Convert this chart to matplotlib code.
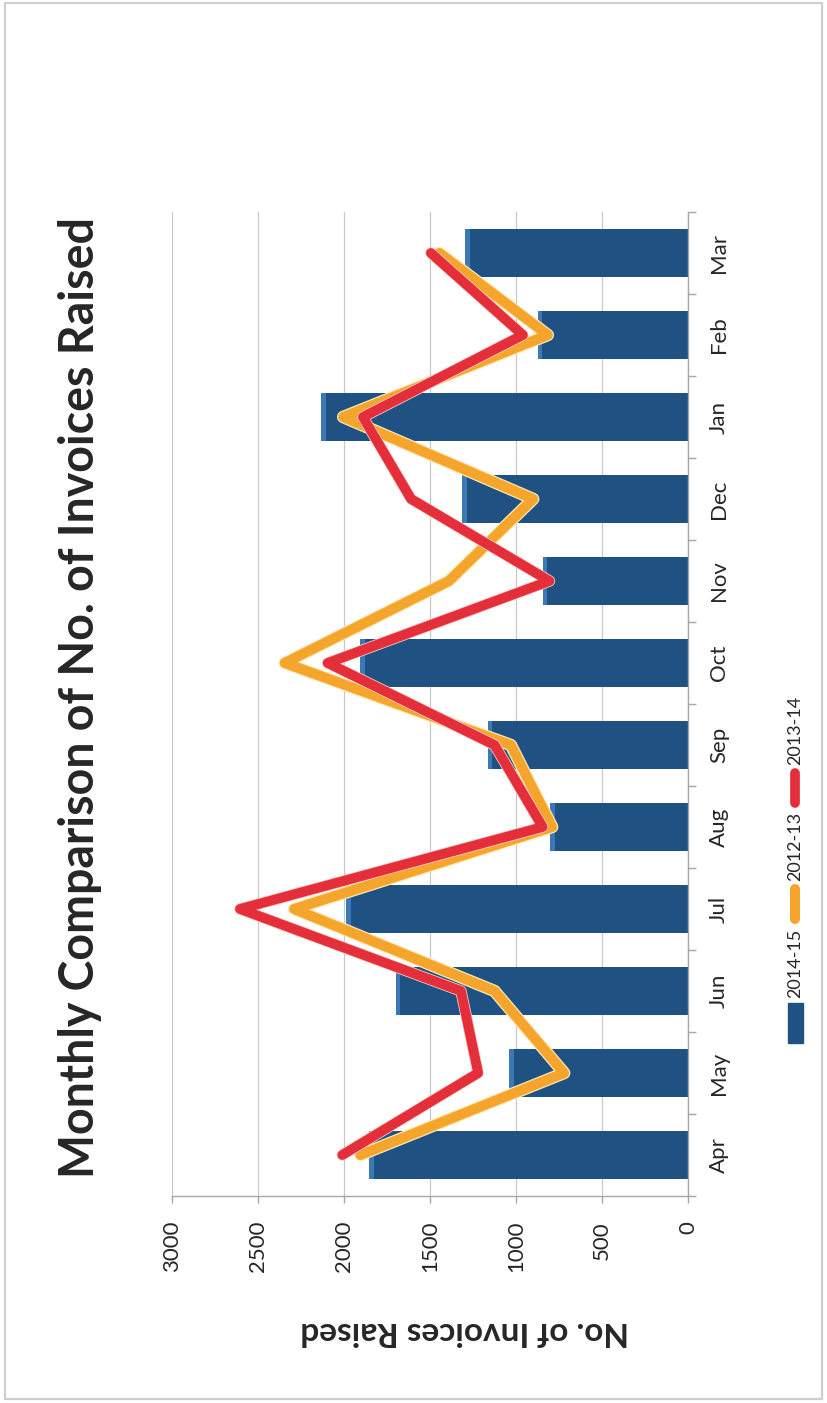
import matplotlib
matplotlib.use("Agg")
import matplotlib.pyplot as plt
import matplotlib.patheffects as pe
from matplotlib.patches import Rectangle
from matplotlib.lines import Line2D
import numpy as np

# Monthly invoice counts per financial year
months = ["Apr", "May", "Jun", "Jul", "Aug", "Sep", "Oct", "Nov", "Dec", "Jan", "Feb", "Mar"]
fy_2014_15 = [1855, 1040, 1700, 1990, 800, 1165, 1905, 845, 1315, 2135, 875, 1295]
fy_2012_13 = [1905, 720, 1125, 2290, 790, 1030, 2345, 1390, 900, 2005, 815, 1445]
fy_2013_14 = [2010, 1220, 1320, 2605, 845, 1125, 2095, 805, 1610, 1890, 960, 1495]
value_ticks = [0, 500, 1000, 1500, 2000, 2500, 3000]
series_names = ["2014-15", "2012-13", "2013-14"]

BLUE = "#1F5283"
BLUE_CAP = "#3B78B4"
ORANGE = "#F5A52B"
RED = "#E42F3B"
TEXT = "#262626"
GRID = "#C9C9C9"
AXIS = "#A6A6A6"

plt.rcParams["font.family"] = ["Lato", "DejaVu Sans"]

W, H = 827, 1403
fig = plt.figure(figsize=(W / 100, H / 100), dpi=100)


def fx(px):
    return px / W


def fy(py):
    return 1 - py / H


# The chart is laid out on its side: months run upward, counts run leftward
ax = fig.add_axes([fx(172), fy(1196), (688 - 172) / W, (1196 - 212) / H])
pos = np.arange(len(months))

ax.barh(pos, fy_2014_15, height=0.58, color=BLUE, zorder=2)
cap = 28
ax.barh(pos, [cap] * len(pos), left=np.array(fy_2014_15) - cap, height=0.58,
        color=BLUE_CAP, zorder=2.1)

glow_o = [pe.Stroke(linewidth=9.0, foreground="#FCE9B8"), pe.Normal()]
glow_r = [pe.Stroke(linewidth=8.2, foreground="#F3C9C4"), pe.Normal()]
ax.plot(fy_2012_13, pos, color=ORANGE, lw=7.2, solid_capstyle="round",
        solid_joinstyle="round", zorder=3, path_effects=glow_o)
ax.plot(fy_2013_14, pos, color=RED, lw=7.0, solid_capstyle="round",
        solid_joinstyle="round", zorder=4, path_effects=glow_r)

ax.set_xlim(3000, 0)
ax.set_ylim(-0.5, len(months) - 0.5)

for s in ["top", "left"]:
    ax.spines[s].set_visible(False)
for s in ["right", "bottom"]:
    ax.spines[s].set_color(AXIS)
    ax.spines[s].set_linewidth(1.0)

ax.set_xticks(value_ticks)
ax.set_xticklabels([str(v) for v in value_ticks], rotation=90, va="top", ha="center")
ax.tick_params(axis="x", direction="out", length=5, color=AXIS, width=1.0,
               pad=13, labelsize=16, labelcolor=TEXT)
ax.xaxis.grid(True, color=GRID, lw=0.9)
ax.set_axisbelow(True)

ax.yaxis.tick_right()
ax.set_yticks(pos)
ax.set_yticklabels(months, rotation=90, va="center", ha="left")
ax.set_yticks(np.arange(-0.5, len(months), 1.0), minor=True)
ax.tick_params(axis="y", which="major", length=0, pad=15, labelsize=16, labelcolor=TEXT)
ax.tick_params(axis="y", which="minor", length=6, direction="out", color=AXIS, width=1.0)

# Title and value-axis label
fig.text(fx(80), fy(697), "Monthly Comparison of No. of Invoices Raised",
         rotation=90, ha="center", va="center", fontsize=33.5, fontweight="bold",
         color=TEXT)
fig.text(fx(465), fy(1331), "No. of Invoices Raised", rotation=180,
         ha="center", va="center", fontsize=24, fontweight="bold", color=TEXT)

# Legend, drawn along the right edge
lx = fx(795)
fig.patches.append(Rectangle((fx(788), fy(1043)), 15 / W, 40 / H,
                             transform=fig.transFigure, color=BLUE))
fig.text(lx, fy(963), series_names[0], rotation=90, ha="center", va="center",
         fontsize=13, color=TEXT)
fig.lines.append(Line2D([lx, lx], [fy(919), fy(889)], transform=fig.transFigure,
                        color=ORANGE, lw=7.2, solid_capstyle="round"))
fig.text(lx, fy(846), series_names[1], rotation=90, ha="center", va="center",
         fontsize=13, color=TEXT)
fig.lines.append(Line2D([lx, lx], [fy(803), fy(773)], transform=fig.transFigure,
                        color=RED, lw=7.0, solid_capstyle="round"))
fig.text(lx, fy(730), series_names[2], rotation=90, ha="center", va="center",
         fontsize=13, color=TEXT)

# Frame around the chart
fig.patches.append(Rectangle((fx(5), fy(1399)), (822 - 5) / W, (1399 - 3) / H,
                             transform=fig.transFigure, fill=False,
                             edgecolor="#CFCFCF", lw=1.6))

fig.savefig("out.png", dpi=100)
